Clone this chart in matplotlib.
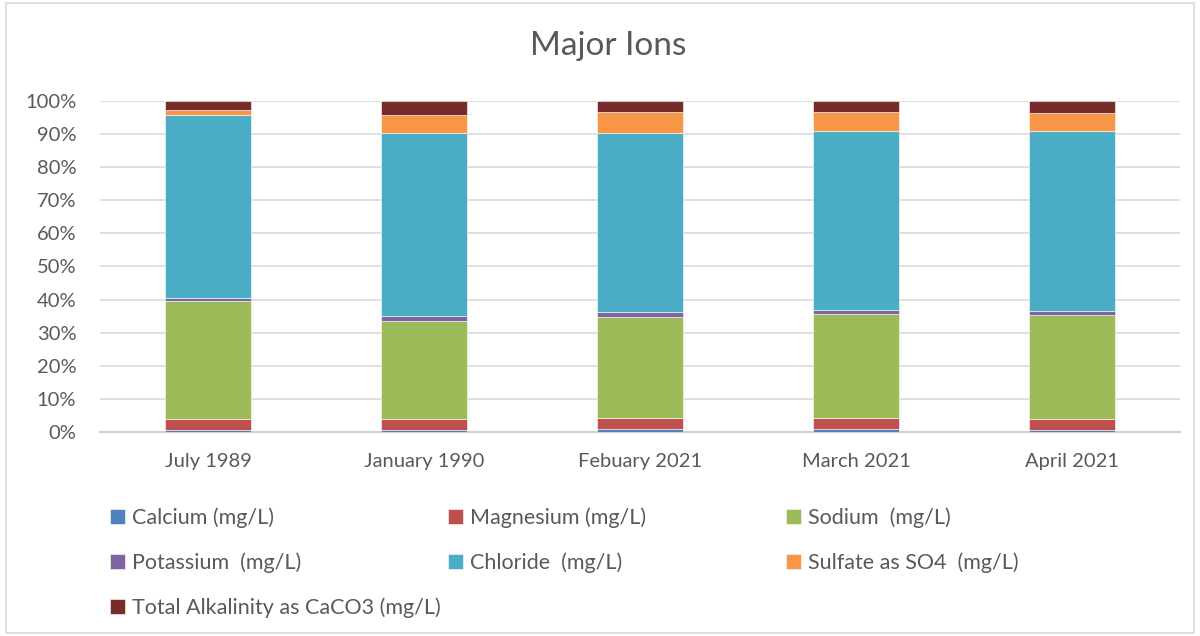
import numpy as np
import matplotlib
matplotlib.use('Agg')
import matplotlib.pyplot as plt
from matplotlib.patches import Rectangle
from matplotlib.ticker import PercentFormatter

plt.rcParams['font.family'] = ['Lato', 'DejaVu Sans']

# share of each ion in every sample (% of total)
samples = ['July 1989', 'January 1990', 'Febuary 2021', 'March 2021', 'April 2021']
ions = ['Calcium (mg/L)', 'Magnesium (mg/L)', 'Sodium  (mg/L)', 'Potassium  (mg/L)',
        'Chloride  (mg/L)', 'Sulfate as SO4  (mg/L)', 'Total Alkalinity as CaCO3 (mg/L)']
calcium = [0.7, 0.6, 0.9, 0.9, 0.7]
magnesium = [3.2, 3.3, 3.3, 3.3, 3.3]
sodium = [35.8, 29.7, 30.5, 31.5, 31.3]
potassium = [0.8, 1.4, 1.4, 1.2, 1.4]
chloride = [55.2, 55.2, 54.1, 54.0, 54.3]
sulfate = [1.6, 5.6, 6.4, 5.7, 5.5]
alkalinity = [2.7, 4.2, 3.4, 3.4, 3.5]
colors = ['#4f81bd', '#c0504d', '#9bbb59', '#8064a2', '#4bacc6', '#f79646', '#772c2a']

series = np.array([calcium, magnesium, sodium, potassium, chloride, sulfate, alkalinity])
shares = series / series.sum(axis=0)

fig = plt.figure(figsize=(12, 6.36), dpi=100)
ax = fig.add_axes([0.0833, 0.3208, 0.9, 0.5204])

x = np.arange(len(samples))
bottom = np.zeros(len(samples))
for name, vals, c in zip(ions, shares, colors):
    ax.bar(x, vals, 0.4, bottom=bottom, color=c, label=name, edgecolor='white', linewidth=0.4, zorder=3)
    bottom += vals

ax.set_xlim(-0.5, len(samples) - 0.5)
ax.set_ylim(0, 1)
ax.set_yticks(np.arange(0, 1.01, 0.1))
ax.yaxis.set_major_formatter(PercentFormatter(1.0, decimals=0))
ax.set_xticks(x)
ax.set_xticklabels(samples)
ax.tick_params(axis='both', length=0, labelsize=14.5, labelcolor='#595959')
ax.tick_params(axis='x', pad=15)
ax.tick_params(axis='y', pad=17)
ax.grid(axis='y', color='#d9d9d9', linewidth=1.2, zorder=0)
for s in ['top', 'right', 'left']:
    ax.spines[s].set_visible(False)
ax.spines['bottom'].set_color('#d0d0d0')
ax.spines['bottom'].set_linewidth(1.5)

fig.text(0.507, 0.927, 'Major Ions', ha='center', va='center', fontsize=24, color='#595959')

# legend: three fixed-width columns like the original
handles, labels = ax.get_legend_handles_labels()
columns = [[0, 3, 6], [1, 4], [2, 5]]
col_x = [110 / 1200, 448 / 1200, 786 / 1200]
for cx, idx in zip(col_x, columns):
    leg = fig.legend([handles[i] for i in idx], [labels[i] for i in idx], ncol=1,
                     loc='upper left', bbox_to_anchor=(cx, 0.202), frameon=False,
                     borderpad=0, borderaxespad=0,
                     fontsize=15.5, labelcolor='#595959', handlelength=0.7, handleheight=0.7,
                     handletextpad=0.3, labelspacing=1.13)

fig.patches.append(Rectangle((0.005, 0.005), 0.99, 0.99, transform=fig.transFigure,
                             fill=False, edgecolor='#d9d9d9', linewidth=1.2))

fig.savefig('out.png', dpi=100)
